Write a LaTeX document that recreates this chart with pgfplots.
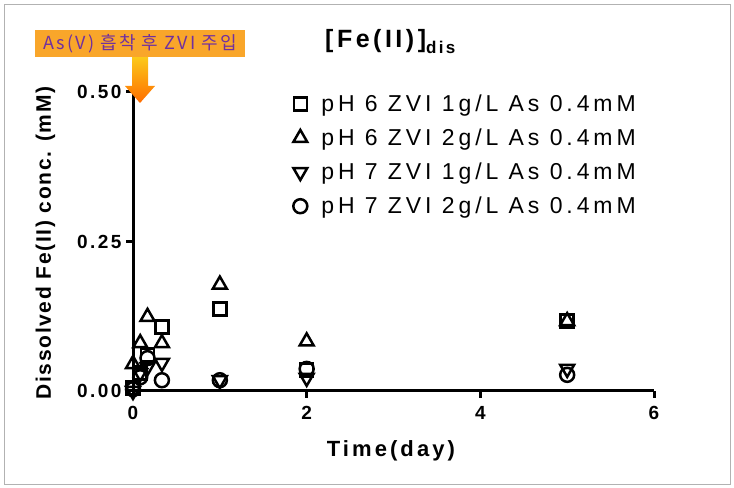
\documentclass[border=0pt]{standalone}
\usepackage{pgfplots}
\pgfplotsset{compat=1.18}
\usepackage{fontspec}
\setmainfont{Liberation Sans}
\newfontfamily\tickfont[LetterSpace=13]{Liberation Sans}
\newfontfamily\xlabfont[LetterSpace=14]{Liberation Sans}
\newfontfamily\labfont[LetterSpace=8]{Liberation Sans}
\newfontfamily\titfont[LetterSpace=14]{Liberation Sans}
\newfontfamily\legfont[LetterSpace=17]{Liberation Sans}
\newfontfamily\kr[LetterSpace=12]{Noto Sans CJK KR}
\definecolor{boxorange}{HTML}{F9A62A}
\definecolor{txtpurple}{HTML}{7030A0}
\begin{document}
\begin{tikzpicture}[x=1bp,y=1bp]
\path (0,0) rectangle (734,488);
\draw[gray!60, line width=0.8bp] (4,4) rectangle (730,484);
\begin{axis}[
  at={(133bp,97bp)}, anchor=origin,
  scale only axis, width=521bp, height=299bp,
  xmin=0, xmax=6, ymin=0, ymax=0.5,
  axis lines*=left,
  axis line style={line width=3bp},
  every tick/.style={black, line width=3bp},
  major tick length=7bp,
  tick align=outside,
  xtick={0,2,4,6}, ytick={0,0.25,0.5},
  yticklabel style={xshift=-1bp, /pgf/number format/.cd, fixed, fixed zerofill, precision=2},
  /pgf/number format/assume math mode=true,
  ticklabel style={font=\tickfont\bfseries\fontsize{19bp}{22bp}\selectfont},
  xticklabel style={yshift=-5bp},
  clip=false,
  xlabel={Time(day)}, ylabel={Dissolved Fe(II) conc. (mM)},
  xlabel style={font=\xlabfont\bfseries\fontsize{22bp}{26bp}\selectfont, at={(rel axis cs:0.495,-0.2)}, anchor=center},
  ylabel style={font=\labfont\bfseries\fontsize{21bp}{25bp}\selectfont, at={(rel axis cs:-0.168,0.495)}, anchor=center, rotate=0},
  legend style={at={(rel axis cs:0.3035,1.005)}, anchor=north west, draw=none, fill=none,
    font=\legfont\fontsize{23bp}{27bp}\selectfont, row sep=12bp, column sep=12bp, inner sep=2bp},
  legend cell align=left,
  every axis plot/.append style={only marks, line width=2.5bp, mark options={solid, line width=2.5bp}},
]
\addplot+[black, mark=square, mark size=6.5bp] coordinates {
(0,0.005) (0.083,0.03) (0.167,0.06) (0.333,0.107) (1,0.137) (2,0.035) (5,0.117)};
\addlegendentry{pH 6 ZVI 1g/L As 0.4mM}
\addplot+[black, mark=triangle, mark size=8bp] coordinates {
(0,0.045) (0.083,0.08) (0.167,0.124) (0.333,0.08) (1,0.178) (2,0.083) (5,0.117)};
\addlegendentry{pH 6 ZVI 2g/L As 0.4mM}
\addplot+[black, mark=triangle, mark size=8bp, mark options={rotate=180}] coordinates {
(0,0.0) (0.083,0.03) (0.167,0.04) (0.333,0.047) (1,0.018) (2,0.022) (5,0.037)};
\addlegendentry{pH 7 ZVI 1g/L As 0.4mM}
\addplot+[black, mark=o, mark size=7bp] coordinates {
(0,0.003) (0.083,0.023) (0.167,0.055) (0.333,0.018) (1,0.018) (2,0.037) (5,0.027)};
\addlegendentry{pH 7 ZVI 2g/L As 0.4mM}
\end{axis}
% title
\node[font=\titfont\bfseries\fontsize{25bp}{29bp}\selectfont, anchor=west, inner sep=0pt] at (325,446)
  {[Fe(II)]\raisebox{-6bp}{\fontsize{17bp}{19bp}\selectfont dis}};
% annotation
\shade[top color=boxorange!60!yellow, bottom color=orange!85!red]
  (132,431) -- (148,431) -- (148,402) -- (155,402) -- (140,385) -- (125,402) -- (132,402) -- cycle;
\fill[boxorange] (35,431) rectangle (245,458);
\node[font=\kr\fontsize{18bp}{21bp}\selectfont, text=txtpurple] at (140,444.5) {As(V) 흡착 후 ZVI 주입};
\end{tikzpicture}
\end{document}
